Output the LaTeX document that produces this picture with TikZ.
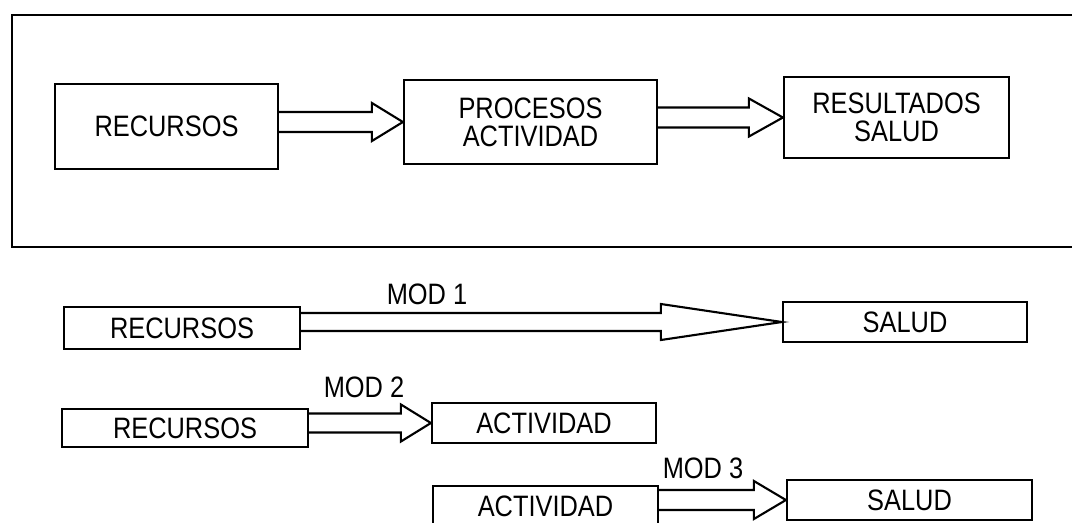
\documentclass[tikz,border=0pt]{standalone}
\usepackage{fontspec}
\setmainfont{Liberation Sans}[FakeStretch=0.86]
\usetikzlibrary{calc}

% hollow block arrow from #1 to #2: shaft half width, head half width, head length
\newcommand{\hollowarrow}[5]{%
  \draw[arrowline] ($(#1.east |- #2.west)+(0,-#3)$) -- ($(#2.west)+(-#5,-#3)$)
    -- ($(#2.west)+(-#5,-#4)$) -- (#2.west) -- ($(#2.west)+(-#5,#4)$)
    -- ($(#2.west)+(-#5,#3)$) -- ($(#1.east |- #2.west)+(0,#3)$);}

\begin{document}
\begin{tikzpicture}[x=0.025cm, y=-0.025cm,
  box/.style={draw, line width=1.5pt, inner sep=0pt, align=center,
    font=\fontsize{21}{20}\selectfont},
  arrowline/.style={line width=1.5pt, line join=miter},
  modlabel/.style={inner sep=0pt, font=\fontsize{21}{20}\selectfont}]
\useasboundingbox (0,0) rectangle (1072,522);
% frame
\draw[line width=1.5pt] (1072,15) -- (12,15) -- (12,247) -- (1072,247);
% upper chain
\node[box, minimum width=5.575cm, minimum height=2.125cm] (rec) at (166.5,126.5) {RECURSOS};
\node[box, minimum width=6.325cm, minimum height=2.1cm] (proc) at (530.5,122) {PROCESOS\\ACTIVIDAD};
\node[box, minimum width=5.625cm, minimum height=2.025cm] (res) at (896.5,117.5) {RESULTADOS\\SALUD};
\hollowarrow{rec}{proc}{10}{19}{31}
\hollowarrow{proc}{res}{10}{19}{34}
% MOD 1
\node[box, minimum width=5.9cm, minimum height=1.05cm] (recA) at (182,328) {RECURSOS};
\node[box, minimum width=6.1cm, minimum height=1cm] (salA) at (905,322) {SALUD};
\node[modlabel] (modA) at (427,294) {MOD 1};
\hollowarrow{recA}{salA}{9}{18}{121}
% MOD 2
\node[box, minimum width=6.15cm, minimum height=0.95cm] (recB) at (185,428) {RECURSOS};
\node[box, minimum width=5.6cm, minimum height=1cm] (actB) at (544,423) {ACTIVIDAD};
\node[modlabel] (modB) at (364,387) {MOD 2};
\hollowarrow{recB}{actB}{9.5}{18.5}{30}
% MOD 3
\node[box, minimum width=5.625cm, minimum height=1cm] (actC) at (545.5,506) {ACTIVIDAD};
\node[box, minimum width=6.125cm, minimum height=1cm] (salC) at (909.5,500) {SALUD};
\node[modlabel] (modC) at (703,468) {MOD 3};
\hollowarrow{actC}{salC}{10}{19}{32}
\end{tikzpicture}
\end{document}
